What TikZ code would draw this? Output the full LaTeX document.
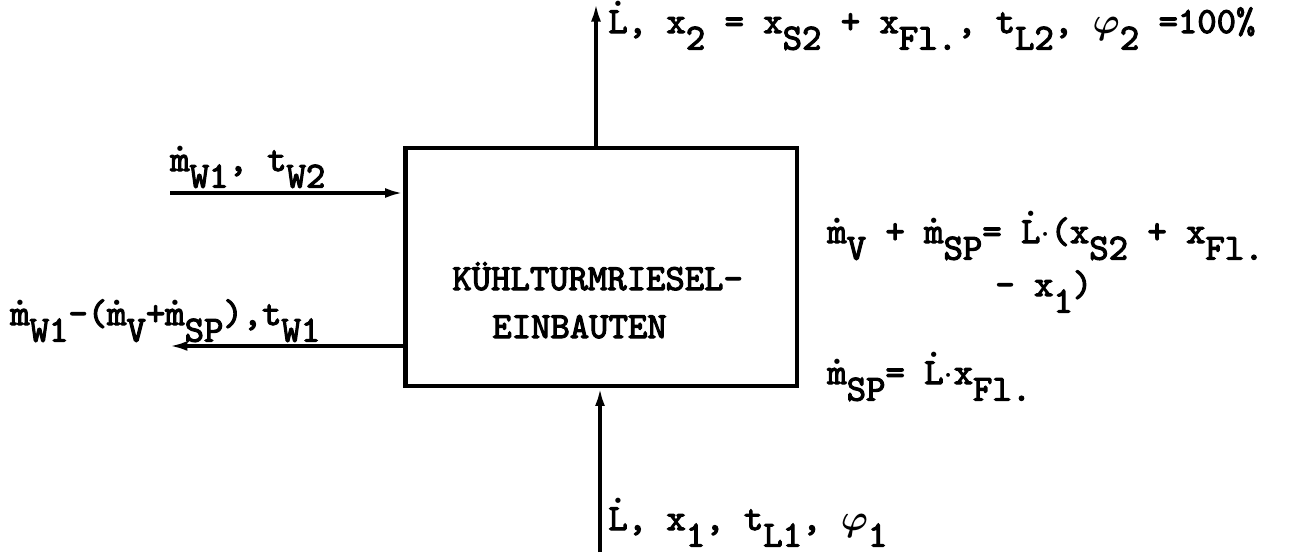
\documentclass[tikz,border=0pt]{standalone}
\usepackage{amsmath}
\usepackage{fontspec}
\newfontfamily\typew{lmmono10-regular.otf}[FakeBold=3]
\usepackage{tikz}
\usetikzlibrary{arrows.meta,calc,positioning}
\newcommand{\lo}[1]{\raisebox{-0.45em}{#1}}
\newcommand{\dt}[1]{\mbox{\boldmath$\dot{\text{#1}}$}}
\newcommand{\phii}{\mbox{\boldmath$\varphi$}}

\begin{document}
\begin{tikzpicture}[x=0.02cm,y=-0.02cm,
  lbl/.style={anchor=base west,inner sep=0pt,font=\fontsize{21}{25}\selectfont\typew},
  flow/.style={line width=1.8pt,-{Latex[length=3.5mm,width=2mm]}}]
  \useasboundingbox (0,0) rectangle (1290,555);
  % the block
  \node[draw,line width=2.8pt,minimum width=7.84cm,minimum height=4.76cm] (box) at (601,267) {};
  \node[lbl] (name1) at (452,290) {KÜHLTURMRIESEL-};
  \node[lbl] (name2) at (492,338) {EINBAUTEN};
  % air out (top) and air in (bottom)
  \coordinate (topend) at (596,4);
  \coordinate (botend) at (600,552);
  \draw[flow] (box.north -| topend) -- (topend);
  \draw[flow] (botend) -- (botend |- box.south);
  \node[lbl] (airout) at (608,33) {\dt{L}, x\lo{2} = x\lo{S2} + x\lo{Fl.}, t\lo{L2}, \phii\lo{2} =100\%};
  \node[lbl] (airin) at (608,530) {\dt{L}, x\lo{1}, t\lo{L1}, \phii\lo{1}};
  % water in and out (left)
  \coordinate (winend) at (170,193);
  \coordinate (woutend) at (170,346);
  \draw[flow] (winend) -- (winend -| box.west);
  \draw[flow] (woutend -| box.west) -- (woutend);
  \node[lbl] (win) at (170,171) {\dt{m}\lo{W1}, t\lo{W2}};
  \node[lbl] (wout) at (10,325) {\dt{m}\lo{W1}-(\dt{m}\lo{V}+\dt{m}\lo{SP}),t\lo{W1}};
  % balances
  \node[lbl] (bal1) at (827,243) {\dt{m}\lo{V} + \dt{m}\lo{SP}= \dt{L}$\cdot$(x\lo{S2} + x\lo{Fl.}};
  \node[lbl] (bal2) at (995,296) {- x\lo{1})};
  \node[lbl] (bal3) at (827,384) {\dt{m}\lo{SP}= \dt{L}$\cdot$x\lo{Fl.}};
\end{tikzpicture}
\end{document}
